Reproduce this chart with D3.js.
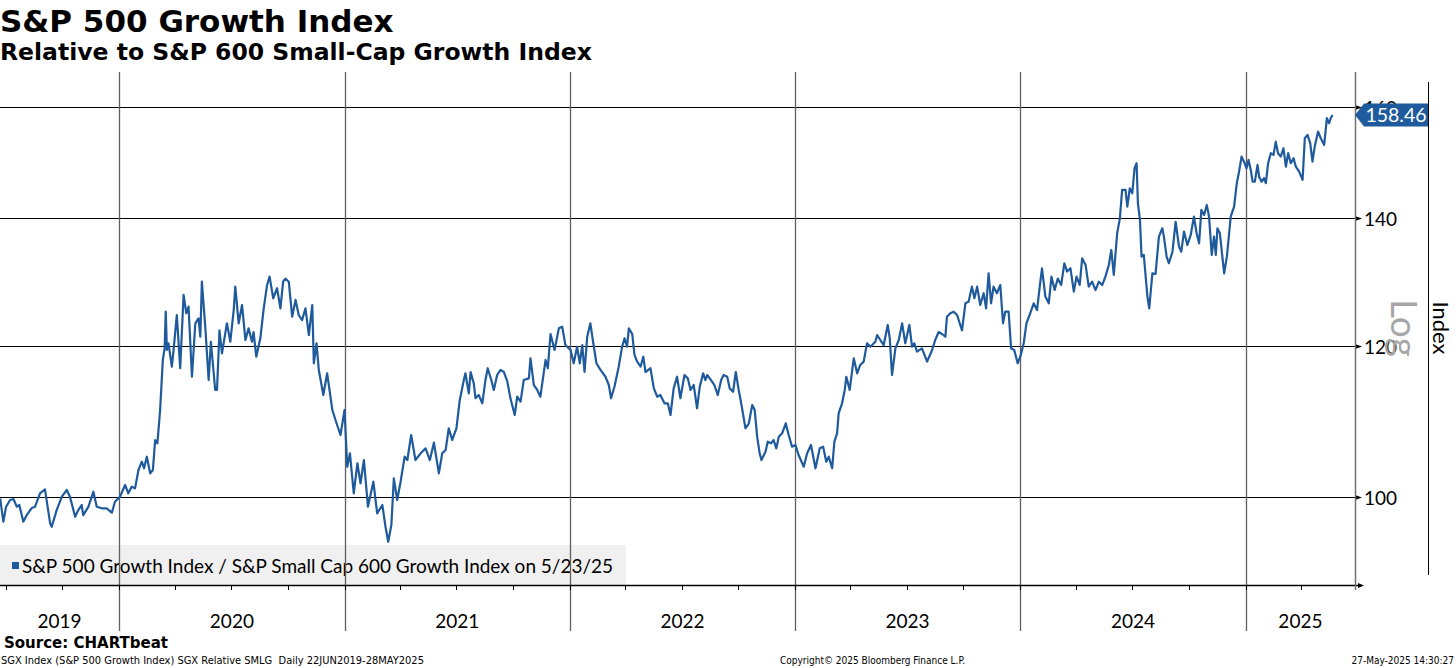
<!DOCTYPE html>
<html>
<head>
<meta charset="utf-8">
<title>S&amp;P 500 Growth Index</title>
<script src="https://cdnjs.cloudflare.com/ajax/libs/d3/7.8.5/d3.min.js"></script>
<style>
	body { margin:0; background:#fff; }
	svg { display:block; }
	.hd { font-family:"DejaVu Sans", Verdana, sans-serif; font-weight:bold; fill:#000; }
	.lbl { font-family:Lato, "Open Sans", sans-serif; fill:#000; }
	.foot { font-family:"DejaVu Sans Condensed", "DejaVu Sans", sans-serif; font-stretch:condensed; font-size:10px; fill:#000; }
</style>
</head>
<body>
<script>
// S&P 500 Growth / S&P 600 Small-Cap Growth: [year fraction, ratio]
var ratio2019 = [[2019.472,99.84],[2019.486,97.07],[2019.498,98.80],[2019.516,99.64],[2019.531,99.76],[2019.546,98.84],[2019.557,99.04],[2019.575,97.07],[2019.590,97.85],[2019.612,98.68],[2019.627,98.84],[2019.649,100.45],[2019.671,100.93],[2019.694,96.88],[2019.701,96.48],[2019.723,98.44],[2019.746,100.04],[2019.768,100.85],[2019.782,100.04],[2019.805,97.65],[2019.819,98.44],[2019.834,99.04],[2019.841,97.85],[2019.864,98.84],[2019.886,100.64],[2019.901,98.84],[2019.923,98.65],[2019.945,98.65],[2019.968,98.13],[2019.982,99.44]];
var ratio2020 = [[2020.004,100.04],[2020.027,101.46],[2020.041,100.45],[2020.056,101.25],[2020.071,101.05],[2020.086,103.31],[2020.101,104.35],[2020.111,103.52],[2020.123,104.98],[2020.138,102.90],[2020.150,103.31],[2020.160,107.11],[2020.170,106.69],[2020.182,111.06],[2020.194,117.96],[2020.202,119.63],[2020.207,125.03],[2020.212,119.39],[2020.219,120.35],[2020.234,117.01],[2020.241,119.14],[2020.256,124.53],[2020.271,116.79],[2020.286,127.58],[2020.298,124.79],[2020.308,125.79],[2020.323,115.60],[2020.338,123.29],[2020.352,124.03],[2020.360,121.31],[2020.367,129.63],[2020.382,122.78],[2020.397,115.14],[2020.407,120.58],[2020.426,113.77],[2020.434,113.77],[2020.445,122.25],[2020.456,118.91],[2020.478,123.29],[2020.493,120.58],[2020.508,125.28],[2020.515,128.86],[2020.530,123.29],[2020.545,126.04],[2020.560,120.83],[2020.574,122.54],[2020.589,120.58],[2020.596,122.00],[2020.608,118.42],[2020.626,121.08],[2020.641,125.54],[2020.656,129.12],[2020.667,130.42],[2020.683,127.07],[2020.700,128.61],[2020.715,125.54],[2020.727,129.63],[2020.737,130.12],[2020.752,129.63],[2020.767,124.27],[2020.782,126.82],[2020.796,124.53],[2020.811,123.77],[2020.826,125.54],[2020.841,121.56],[2020.856,126.04],[2020.863,117.49],[2020.875,120.35],[2020.885,116.55],[2020.905,113.08],[2020.922,116.08],[2020.945,111.06],[2020.959,109.73],[2020.981,107.76],[2020.999,111.06]];
var ratio2021 = [[2021.011,103.72],[2021.023,105.41],[2021.040,100.45],[2021.056,104.15],[2021.070,101.67],[2021.085,104.56],[2021.103,98.84],[2021.127,101.86],[2021.144,98.05],[2021.167,99.04],[2021.181,96.48],[2021.193,94.75],[2021.207,96.68],[2021.218,102.28],[2021.233,99.64],[2021.248,101.86],[2021.266,104.98],[2021.278,104.56],[2021.295,107.76],[2021.314,104.56],[2021.337,105.41],[2021.359,106.04],[2021.378,104.56],[2021.396,106.77],[2021.418,102.90],[2021.433,105.41],[2021.448,105.83],[2021.462,108.64],[2021.477,107.11],[2021.496,108.64],[2021.511,112.41],[2021.529,115.14],[2021.536,116.08],[2021.551,113.30],[2021.559,116.26],[2021.573,114.68],[2021.581,112.64],[2021.595,113.08],[2021.611,111.96],[2021.625,115.14],[2021.635,116.79],[2021.651,115.14],[2021.662,113.77],[2021.677,115.84],[2021.692,116.55],[2021.707,116.26],[2021.722,114.95],[2021.736,112.64],[2021.755,110.39],[2021.766,112.85],[2021.781,112.18],[2021.795,115.14],[2021.818,115.37],[2021.825,118.20],[2021.840,114.45],[2021.855,113.77],[2021.869,112.85],[2021.892,117.96],[2021.902,116.79],[2021.914,121.71],[2021.932,119.39],[2021.951,122.54],[2021.966,122.78],[2021.980,120.10]];
var ratio2022 = [[2022.003,119.39],[2022.017,117.49],[2022.032,119.86],[2022.044,117.49],[2022.055,120.10],[2022.065,116.26],[2022.077,121.31],[2022.091,123.29],[2022.103,120.58],[2022.118,117.49],[2022.136,116.55],[2022.158,115.60],[2022.173,114.45],[2022.183,112.64],[2022.198,114.22],[2022.217,117.01],[2022.232,119.86],[2022.243,121.08],[2022.254,119.86],[2022.262,122.54],[2022.277,121.71],[2022.287,118.67],[2022.299,117.72],[2022.314,117.01],[2022.326,118.42],[2022.336,116.26],[2022.358,116.79],[2022.373,113.99],[2022.388,112.85],[2022.402,113.08],[2022.420,111.96],[2022.435,111.96],[2022.447,110.39],[2022.461,113.99],[2022.476,115.60],[2022.491,112.64],[2022.509,115.84],[2022.524,115.37],[2022.536,113.77],[2022.550,114.45],[2022.565,111.29],[2022.577,114.22],[2022.592,116.08],[2022.602,115.14],[2022.610,115.84],[2022.627,115.14],[2022.642,114.45],[2022.657,113.08],[2022.672,115.14],[2022.683,115.84],[2022.699,115.60],[2022.710,113.99],[2022.725,113.53],[2022.737,116.26],[2022.750,113.77],[2022.761,111.96],[2022.780,108.64],[2022.795,109.29],[2022.810,111.73],[2022.821,111.06],[2022.832,107.54],[2022.843,105.41],[2022.851,104.56],[2022.869,105.62],[2022.879,106.90],[2022.894,106.69],[2022.905,107.11],[2022.917,106.04],[2022.928,107.54],[2022.943,107.98],[2022.959,109.29],[2022.972,107.76],[2022.987,106.25]];
var ratio2023 = [[2023.002,106.47],[2023.016,105.19],[2023.039,103.72],[2023.054,105.41],[2023.071,106.47],[2023.091,103.52],[2023.110,106.04],[2023.125,106.25],[2023.139,104.35],[2023.150,104.98],[2023.165,103.52],[2023.175,106.90],[2023.187,107.98],[2023.194,110.62],[2023.209,111.96],[2023.221,113.77],[2023.228,115.60],[2023.243,113.77],[2023.261,118.20],[2023.276,116.08],[2023.290,117.25],[2023.305,117.72],[2023.320,120.35],[2023.335,119.86],[2023.357,120.58],[2023.365,121.56],[2023.379,120.83],[2023.394,120.10],[2023.412,123.04],[2023.421,121.08],[2023.431,115.84],[2023.446,119.63],[2023.461,120.83],[2023.476,123.29],[2023.490,120.35],[2023.508,123.04],[2023.520,119.86],[2023.530,120.35],[2023.542,119.14],[2023.564,119.63],[2023.587,117.72],[2023.609,119.39],[2023.623,120.83],[2023.638,122.00],[2023.653,121.71],[2023.668,121.31],[2023.675,124.27],[2023.690,124.79],[2023.705,125.03],[2023.720,124.53],[2023.742,122.25],[2023.757,126.30],[2023.771,126.54],[2023.786,128.86],[2023.797,127.07],[2023.809,128.86],[2023.823,126.04],[2023.838,127.84],[2023.849,125.54],[2023.860,130.95],[2023.871,126.30],[2023.882,128.86],[2023.897,127.84],[2023.912,129.12],[2023.924,123.29],[2023.934,125.03],[2023.949,125.03],[2023.960,119.63],[2023.974,119.39],[2023.989,117.49]];
var ratio2024 = [[2024.001,118.42],[2024.016,120.35],[2024.028,123.29],[2024.045,124.79],[2024.060,126.30],[2024.075,125.28],[2024.087,128.86],[2024.097,131.74],[2024.112,127.33],[2024.127,126.30],[2024.139,130.42],[2024.153,128.34],[2024.167,130.12],[2024.182,129.12],[2024.196,132.54],[2024.208,131.22],[2024.223,131.74],[2024.238,128.08],[2024.250,130.42],[2024.264,129.12],[2024.275,133.34],[2024.290,132.27],[2024.304,128.86],[2024.319,129.63],[2024.334,128.34],[2024.349,129.63],[2024.364,129.12],[2024.378,130.42],[2024.393,132.27],[2024.404,134.68],[2024.415,130.68],[2024.430,137.42],[2024.442,139.90],[2024.452,144.79],[2024.467,144.79],[2024.475,141.90],[2024.486,145.08],[2024.497,144.21],[2024.507,148.62],[2024.516,149.52],[2024.522,142.44],[2024.531,139.62],[2024.538,133.60],[2024.548,133.87],[2024.564,127.33],[2024.572,125.54],[2024.586,130.95],[2024.600,130.83],[2024.615,136.86],[2024.630,138.25],[2024.637,136.86],[2024.649,133.60],[2024.659,132.54],[2024.675,134.40],[2024.689,139.34],[2024.704,135.22],[2024.714,134.40],[2024.726,137.70],[2024.741,135.50],[2024.756,137.14],[2024.770,140.20],[2024.782,137.42],[2024.793,135.77],[2024.803,141.34],[2024.815,140.49],[2024.827,142.19],[2024.837,140.20],[2024.849,133.87],[2024.859,136.86],[2024.867,133.87],[2024.874,138.25],[2024.885,137.42],[2024.896,133.60],[2024.904,130.95],[2024.916,133.60],[2024.926,137.42],[2024.933,140.20],[2024.948,141.90],[2024.960,145.96],[2024.970,148.01],[2024.981,150.71],[2024.992,149.81]];
var ratio2025 = [[2025.003,148.62],[2025.012,150.12],[2025.022,148.32],[2025.030,146.24],[2025.040,146.24],[2025.052,149.22],[2025.059,147.12],[2025.070,146.24],[2025.081,146.84],[2025.089,145.96],[2025.099,149.52],[2025.111,151.34],[2025.123,151.03],[2025.133,153.47],[2025.143,151.34],[2025.155,150.71],[2025.167,152.25],[2025.178,148.91],[2025.188,151.34],[2025.200,149.52],[2025.212,150.43],[2025.222,148.91],[2025.237,148.01],[2025.252,146.54],[2025.262,154.10],[2025.274,154.72],[2025.286,153.18],[2025.296,149.81],[2025.306,152.55],[2025.321,155.33],[2025.333,154.10],[2025.348,152.86],[2025.360,157.86],[2025.370,156.91],[2025.377,157.86],[2025.385,158.46]];

var yTicks = [100, 120, 140, 160];
var years = [2019, 2020, 2021, 2022, 2023, 2024, 2025];
var lastValue = 158.46;
var dateRange = ["2019-06-22", "2025-06-27"];
var yRange = [89.94, 166.9];

var W = 1456, H = 668;
var mLeft = 0, mRight = 1355, mTop = 72, mBottom = 585;
var blue = "#1f5b9c";

function toDate(yf) {
	var yr = Math.floor(yf);
	var s = new Date(yr, 0, 1), e = new Date(yr + 1, 0, 1);
	return new Date(+s + (yf - yr) * (e - s));
}

var series = [].concat(ratio2019, ratio2020, ratio2021, ratio2022, ratio2023, ratio2024, ratio2025)
	.map(function(d) { return { date: toDate(d[0]), value: d[1] }; });

var parse = d3.timeParse("%Y-%m-%d");
var x = d3.scaleTime().domain(dateRange.map(parse)).range([mLeft, mRight]);
var y = d3.scaleLog().domain(yRange).range([mBottom, mTop]);

var svg = d3.select("body").append("svg").attr("width", W).attr("height", H);

// titles
svg.append("text").attr("class", "hd").attr("x", 0).attr("y", 32)
	.attr("font-size", 31).text("S&P 500 Growth Index");
svg.append("text").attr("class", "hd").attr("x", 0).attr("y", 60)
	.attr("font-size", 23.5).text("Relative to S&P 600 Small-Cap Growth Index");

// legend box (under the grid)
svg.append("rect").attr("x", 0).attr("y", 545).attr("width", 626).attr("height", mBottom - 545)
	.attr("fill", "#f0f0f0");
svg.append("rect").attr("x", 12).attr("y", 562).attr("width", 7).attr("height", 7).attr("fill", blue);
svg.append("text").attr("class", "lbl").attr("x", 22).attr("y", 573).attr("font-size", 19)
	.text("S&P 500 Growth Index / S&P Small Cap 600 Growth Index on 5/23/25");

// horizontal grid with arrow tips
yTicks.forEach(function(t) {
	var yy = Math.round(y(t)) + 0.5;
	svg.append("line").attr("x1", mLeft).attr("x2", mRight).attr("y1", yy).attr("y2", yy)
		.attr("stroke", "#000").attr("stroke-width", 1);
	svg.append("path").attr("d", "M" + mRight + "," + (yy - 2.5) + "L" + (mRight + 7) + "," + yy + "L" + mRight + "," + (yy + 2.5) + "Z")
		.attr("fill", "#000");
	svg.append("text").attr("class", "lbl").attr("x", mRight + 9).attr("y", yy + 7)
		.attr("font-size", 19).text(t);
});

// year grid lines
var yearTicks = x.ticks(d3.timeYear.every(1));
svg.selectAll(".ygrid").data(yearTicks).enter().append("line")
	.attr("x1", function(d) { return Math.round(x(d)) + 0.5; })
	.attr("x2", function(d) { return Math.round(x(d)) + 0.5; })
	.attr("y1", mTop).attr("y2", 631)
	.attr("stroke", "#606060").attr("stroke-width", 1.3);

// x axis
svg.append("line").attr("x1", mLeft).attr("x2", mRight + 3).attr("y1", mBottom + 0.5).attr("y2", mBottom + 0.5)
	.attr("stroke", "#000").attr("stroke-width", 1.3);
svg.append("path").attr("d", "M" + (mRight + 3) + "," + (mBottom - 2) + "L" + (mRight + 9) + "," + (mBottom + 0.5) + "L" + (mRight + 3) + "," + (mBottom + 3) + "Z")
	.attr("fill", "#000");
var quarters = d3.timeMonth.every(3).range(x.domain()[0], x.domain()[1]);
svg.selectAll(".qt").data(quarters).enter().append("line")
	.attr("x1", function(d) { return Math.round(x(d)) + 0.5; })
	.attr("x2", function(d) { return Math.round(x(d)) + 0.5; })
	.attr("y1", mBottom).attr("y2", mBottom + 5)
	.attr("stroke", "#000").attr("stroke-width", 1);

// year labels centred in each year segment
svg.selectAll(".yl").data(years).enter().append("text").attr("class", "lbl")
	.attr("x", function(d) {
		var a = Math.max(x(new Date(d, 0, 1)), mLeft);
		var b = Math.min(x(new Date(d + 1, 0, 1)), mRight);
		return (a + b) / 2;
	})
	.attr("y", 628).attr("text-anchor", "middle").attr("font-size", 19)
	.text(function(d) { return d; });

// y axis line and right frame
svg.append("line").attr("x1", mRight + 0.5).attr("x2", mRight + 0.5).attr("y1", mTop).attr("y2", 590)
	.attr("stroke", "#707070").attr("stroke-width", 1.5);
svg.append("line").attr("x1", 1428.5).attr("x2", 1428.5).attr("y1", 82).attr("y2", 575)
	.attr("stroke", "#000").attr("stroke-width", 1);

svg.append("text").attr("class", "lbl")
	.attr("transform", "translate(1391,328) rotate(90)")
	.attr("text-anchor", "middle").attr("font-size", 37).style("fill", "#a6a6a6")
	.text("Log");
svg.append("text").attr("class", "lbl")
	.attr("transform", "translate(1433,328) rotate(90)")
	.attr("text-anchor", "middle").attr("font-size", 22)
	.text("Index");

// series line
var line = d3.line().x(function(d) { return x(d.date); }).y(function(d) { return y(d.value); });
svg.append("path").datum(series).attr("d", line)
	.attr("fill", "none").attr("stroke", blue).attr("stroke-width", 2.2).attr("stroke-linejoin", "round");

// last value tag
var ty = y(lastValue);
svg.append("path")
	.attr("d", "M" + mRight + "," + ty + "L" + (mRight + 9) + "," + (ty - 11.5) + "L1428," + (ty - 11.5) + "L1428," + (ty + 11.5) + "L" + (mRight + 9) + "," + (ty + 11.5) + "Z")
	.attr("fill", blue);
svg.append("text").attr("class", "lbl").attr("x", (mRight + 9 + 1428) / 2).attr("y", ty + 7)
	.attr("text-anchor", "middle").attr("font-size", 19.5).style("fill", "#fff")
	.text(d3.format(".2f")(lastValue));

// footer
svg.append("text").attr("class", "hd").attr("x", 4).attr("y", 648).attr("font-size", 15)
	.text("Source: CHARTbeat");
svg.append("text").attr("class", "foot").attr("x", 1).attr("y", 664).style("font-size", "11px")
	.attr("xml:space", "preserve")
	.text("SGX Index (S&P 500 Growth Index) SGX Relative SMLG  Daily 22JUN2019-28MAY2025");
svg.append("text").attr("class", "foot").attr("x", 780).attr("y", 664)
	.text("Copyright\u00a9 2025 Bloomberg Finance L.P.");
svg.append("text").attr("class", "foot").attr("x", 1454).attr("y", 664).attr("text-anchor", "end")
	.text("27-May-2025 14:30:27");
</script>
</body>
</html>
